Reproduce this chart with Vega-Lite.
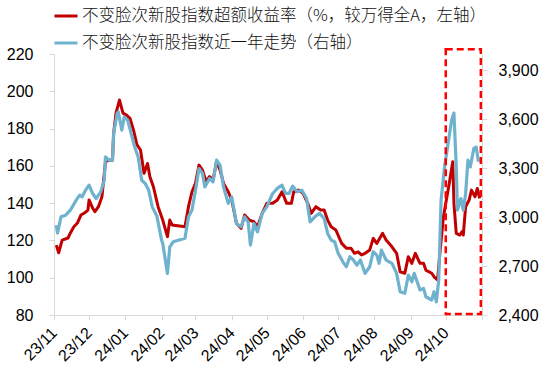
{
  "$schema": "https://vega.github.io/schema/vega-lite/v6.json",
  "width": 428,
  "height": 261,
  "autosize": {"type": "none"},
  "padding": {"left": 54, "top": 54, "right": 68, "bottom": 64},
  "background": "white",
  "config": {"view": {"stroke": null}, "font": "Liberation Sans"},
  "datasets": {
    "red": [
      {"d": "2023-11-03", "v": 117.5}, {"d": "2023-11-05", "v": 113.4}, {"d": "2023-11-08", "v": 120.2}, {"d": "2023-11-13", "v": 121.3},
      {"d": "2023-11-15", "v": 124.0}, {"d": "2023-11-18", "v": 127.3}, {"d": "2023-11-21", "v": 129.3}, {"d": "2023-11-24", "v": 133.6},
      {"d": "2023-11-27", "v": 134.7}, {"d": "2023-11-30", "v": 136.3}, {"d": "2023-12-01", "v": 141.7}, {"d": "2023-12-04", "v": 137.4},
      {"d": "2023-12-06", "v": 135.4}, {"d": "2023-12-09", "v": 138.1}, {"d": "2023-12-12", "v": 143.4}, {"d": "2023-12-15", "v": 162.2},
      {"d": "2023-12-18", "v": 163.1}, {"d": "2023-12-21", "v": 163.0}, {"d": "2023-12-22", "v": 177.4}, {"d": "2023-12-24", "v": 188.3},
      {"d": "2023-12-27", "v": 195.3}, {"d": "2023-12-30", "v": 188.3}, {"d": "2024-01-02", "v": 187.2}, {"d": "2024-01-05", "v": 185.5},
      {"d": "2024-01-08", "v": 179.2}, {"d": "2024-01-11", "v": 171.2}, {"d": "2024-01-14", "v": 168.5}, {"d": "2024-01-17", "v": 156.0},
      {"d": "2024-01-20", "v": 161.3}, {"d": "2024-01-22", "v": 154.2}, {"d": "2024-01-25", "v": 148.8}, {"d": "2024-01-29", "v": 138.1},
      {"d": "2024-02-01", "v": 132.7}, {"d": "2024-02-02", "v": 130.9}, {"d": "2024-02-06", "v": 122.0}, {"d": "2024-02-08", "v": 130.9},
      {"d": "2024-02-10", "v": 128.3}, {"d": "2024-02-21", "v": 127.3}, {"d": "2024-02-24", "v": 138.1}, {"d": "2024-02-27", "v": 146.1},
      {"d": "2024-03-01", "v": 150.6}, {"d": "2024-03-04", "v": 160.4}, {"d": "2024-03-07", "v": 157.7}, {"d": "2024-03-10", "v": 151.5},
      {"d": "2024-03-13", "v": 154.2}, {"d": "2024-03-16", "v": 152.4}, {"d": "2024-03-19", "v": 162.2}, {"d": "2024-03-22", "v": 157.7},
      {"d": "2024-03-25", "v": 150.6}, {"d": "2024-03-29", "v": 146.1}, {"d": "2024-04-01", "v": 141.7}, {"d": "2024-04-05", "v": 129.2},
      {"d": "2024-04-09", "v": 126.5}, {"d": "2024-04-12", "v": 133.6}, {"d": "2024-04-16", "v": 130.9}, {"d": "2024-04-20", "v": 130.0},
      {"d": "2024-04-23", "v": 127.3}, {"d": "2024-04-27", "v": 134.5}, {"d": "2024-05-01", "v": 139.9}, {"d": "2024-05-06", "v": 139.9},
      {"d": "2024-05-10", "v": 141.7}, {"d": "2024-05-14", "v": 146.1}, {"d": "2024-05-18", "v": 139.9}, {"d": "2024-05-22", "v": 139.9},
      {"d": "2024-05-24", "v": 146.1}, {"d": "2024-05-28", "v": 147.0}, {"d": "2024-06-01", "v": 145.3}, {"d": "2024-06-05", "v": 139.9},
      {"d": "2024-06-08", "v": 134.5}, {"d": "2024-06-12", "v": 138.1}, {"d": "2024-06-16", "v": 136.3}, {"d": "2024-06-19", "v": 136.3},
      {"d": "2024-06-22", "v": 130.9}, {"d": "2024-06-25", "v": 127.3}, {"d": "2024-06-29", "v": 125.6}, {"d": "2024-07-04", "v": 118.4},
      {"d": "2024-07-08", "v": 115.8}, {"d": "2024-07-12", "v": 115.8}, {"d": "2024-07-15", "v": 113.1}, {"d": "2024-07-18", "v": 113.9},
      {"d": "2024-07-21", "v": 112.2}, {"d": "2024-07-24", "v": 113.1}, {"d": "2024-07-28", "v": 114.9}, {"d": "2024-07-31", "v": 121.1},
      {"d": "2024-08-03", "v": 118.4}, {"d": "2024-08-08", "v": 123.8}, {"d": "2024-08-11", "v": 120.2}, {"d": "2024-08-16", "v": 116.6},
      {"d": "2024-08-20", "v": 113.1}, {"d": "2024-08-23", "v": 103.2}, {"d": "2024-08-27", "v": 102.4}, {"d": "2024-08-30", "v": 111.3},
      {"d": "2024-09-02", "v": 107.7}, {"d": "2024-09-05", "v": 113.1}, {"d": "2024-09-09", "v": 107.7}, {"d": "2024-09-12", "v": 107.7},
      {"d": "2024-09-14", "v": 104.1}, {"d": "2024-09-19", "v": 102.4}, {"d": "2024-09-21", "v": 100.5}, {"d": "2024-09-24", "v": 98.8},
      {"d": "2024-09-26", "v": 113.1}, {"d": "2024-09-29", "v": 132.7}, {"d": "2024-10-02", "v": 143.4}, {"d": "2024-10-04", "v": 150.6},
      {"d": "2024-10-07", "v": 162.2}, {"d": "2024-10-08", "v": 139.9}, {"d": "2024-10-10", "v": 123.8}, {"d": "2024-10-13", "v": 122.9},
      {"d": "2024-10-15", "v": 124.7}, {"d": "2024-10-16", "v": 122.9}, {"d": "2024-10-18", "v": 138.1}, {"d": "2024-10-21", "v": 141.7},
      {"d": "2024-10-23", "v": 147.0}, {"d": "2024-10-26", "v": 143.4}, {"d": "2024-10-28", "v": 147.9}, {"d": "2024-10-30", "v": 142.6}
    ],
    "blue": [
      {"d": "2023-11-03", "v": 2951}, {"d": "2023-11-04", "v": 2902}, {"d": "2023-11-07", "v": 3002}, {"d": "2023-11-11", "v": 3012},
      {"d": "2023-11-15", "v": 3043}, {"d": "2023-11-20", "v": 3104}, {"d": "2023-11-23", "v": 3135}, {"d": "2023-11-25", "v": 3124},
      {"d": "2023-11-28", "v": 3165}, {"d": "2023-12-01", "v": 3196}, {"d": "2023-12-04", "v": 3145}, {"d": "2023-12-07", "v": 3114},
      {"d": "2023-12-11", "v": 3155}, {"d": "2023-12-14", "v": 3226}, {"d": "2023-12-15", "v": 3369}, {"d": "2023-12-18", "v": 3349},
      {"d": "2023-12-21", "v": 3349}, {"d": "2023-12-22", "v": 3512}, {"d": "2023-12-25", "v": 3635}, {"d": "2023-12-26", "v": 3645},
      {"d": "2023-12-29", "v": 3533}, {"d": "2023-12-31", "v": 3614}, {"d": "2024-01-03", "v": 3594}, {"d": "2024-01-06", "v": 3512},
      {"d": "2024-01-09", "v": 3430}, {"d": "2024-01-12", "v": 3369}, {"d": "2024-01-15", "v": 3226}, {"d": "2024-01-18", "v": 3206},
      {"d": "2024-01-21", "v": 3165}, {"d": "2024-01-24", "v": 3063}, {"d": "2024-01-28", "v": 3006}, {"d": "2024-02-01", "v": 2859},
      {"d": "2024-02-02", "v": 2839}, {"d": "2024-02-06", "v": 2655}, {"d": "2024-02-08", "v": 2818}, {"d": "2024-02-11", "v": 2849},
      {"d": "2024-02-21", "v": 2870}, {"d": "2024-02-24", "v": 3002}, {"d": "2024-02-27", "v": 3043}, {"d": "2024-03-01", "v": 3165},
      {"d": "2024-03-04", "v": 3298}, {"d": "2024-03-07", "v": 3268}, {"d": "2024-03-09", "v": 3185}, {"d": "2024-03-13", "v": 3237},
      {"d": "2024-03-16", "v": 3216}, {"d": "2024-03-19", "v": 3349}, {"d": "2024-03-22", "v": 3318}, {"d": "2024-03-25", "v": 3185},
      {"d": "2024-03-29", "v": 3084}, {"d": "2024-04-01", "v": 3124}, {"d": "2024-04-05", "v": 2961}, {"d": "2024-04-09", "v": 2941},
      {"d": "2024-04-12", "v": 3002}, {"d": "2024-04-15", "v": 2971}, {"d": "2024-04-17", "v": 2829}, {"d": "2024-04-20", "v": 2961},
      {"d": "2024-04-23", "v": 2910}, {"d": "2024-04-27", "v": 3023}, {"d": "2024-05-01", "v": 3063}, {"d": "2024-05-04", "v": 3114},
      {"d": "2024-05-06", "v": 3145}, {"d": "2024-05-10", "v": 3176}, {"d": "2024-05-14", "v": 3196}, {"d": "2024-05-17", "v": 3145},
      {"d": "2024-05-20", "v": 3145}, {"d": "2024-05-23", "v": 3190}, {"d": "2024-05-27", "v": 3155}, {"d": "2024-05-31", "v": 3165},
      {"d": "2024-06-04", "v": 3114}, {"d": "2024-06-07", "v": 2971}, {"d": "2024-06-11", "v": 3002}, {"d": "2024-06-15", "v": 3023},
      {"d": "2024-06-19", "v": 2992}, {"d": "2024-06-22", "v": 2900}, {"d": "2024-06-25", "v": 2859}, {"d": "2024-06-28", "v": 2849},
      {"d": "2024-07-01", "v": 2778}, {"d": "2024-07-05", "v": 2726}, {"d": "2024-07-08", "v": 2696}, {"d": "2024-07-11", "v": 2757},
      {"d": "2024-07-14", "v": 2737}, {"d": "2024-07-17", "v": 2706}, {"d": "2024-07-20", "v": 2737}, {"d": "2024-07-24", "v": 2655},
      {"d": "2024-07-28", "v": 2696}, {"d": "2024-07-31", "v": 2788}, {"d": "2024-08-03", "v": 2767}, {"d": "2024-08-05", "v": 2717},
      {"d": "2024-08-07", "v": 2798}, {"d": "2024-08-11", "v": 2737}, {"d": "2024-08-16", "v": 2717}, {"d": "2024-08-20", "v": 2655},
      {"d": "2024-08-23", "v": 2543}, {"d": "2024-08-27", "v": 2533}, {"d": "2024-08-30", "v": 2645}, {"d": "2024-09-02", "v": 2604},
      {"d": "2024-09-04", "v": 2655}, {"d": "2024-09-09", "v": 2553}, {"d": "2024-09-12", "v": 2563}, {"d": "2024-09-14", "v": 2512},
      {"d": "2024-09-19", "v": 2492}, {"d": "2024-09-21", "v": 2543}, {"d": "2024-09-23", "v": 2481}, {"d": "2024-09-25", "v": 2614},
      {"d": "2024-09-27", "v": 3104}, {"d": "2024-09-30", "v": 3308}, {"d": "2024-10-03", "v": 3451}, {"d": "2024-10-06", "v": 3594},
      {"d": "2024-10-08", "v": 3638}, {"d": "2024-10-10", "v": 3308}, {"d": "2024-10-11", "v": 3043}, {"d": "2024-10-14", "v": 3114},
      {"d": "2024-10-16", "v": 3043}, {"d": "2024-10-18", "v": 3145}, {"d": "2024-10-20", "v": 3349}, {"d": "2024-10-22", "v": 3308},
      {"d": "2024-10-25", "v": 3421}, {"d": "2024-10-27", "v": 3430}, {"d": "2024-10-29", "v": 3339}
    ],
    "box": [{"a": "2024-10-01", "b": "2024-10-31", "lo": 80.5, "hi": 222.6}]
  },
  "encoding": {
    "x": {
      "field": "d", "type": "temporal", "title": null,
      "scale": {"type": "utc", "domain": [{"year": 2023, "month": 11, "date": 1, "utc": true}, {"year": 2024, "month": 11, "date": 1, "utc": true}]},
      "axis": {
        "title": null, "grid": false, "domainColor": "#d9d9d9", "tickColor": "#d9d9d9", "tickSize": 5,
        "tickCount": {"interval": "month", "step": 1},
        "labelAngle": -45, "labelAlign": "right", "labelBaseline": "middle", "labelPadding": 10,
        "labelFont": "Liberation Sans", "labelFontSize": 16, "labelColor": "#000000",
        "labelFlush": false, "labelOverlap": false, "labelBound": false,
        "labelExpr": "datum.value >= utc(2024,10,1) ? '' : utcFormat(datum.value, '%y/%m')"
      }
    }
  },
  "layer": [
    {
      "data": {"name": "red"},
      "mark": {"type": "line", "strokeWidth": 3, "strokeJoin": "round"},
      "encoding": {
        "y": {
          "field": "v", "type": "quantitative", "title": null,
          "scale": {"domain": [80, 220], "nice": false, "zero": false},
          "axis": {"orient": "left", "title": null, "grid": false, "values": [80, 100, 120, 140, 160, 180, 200, 220],
            "domainColor": "#d9d9d9", "tickColor": "#d9d9d9", "tickSize": 5, "labelPadding": 16,
            "labelFont": "Liberation Sans", "labelFontSize": 16, "labelColor": "#000000"}
        },
        "color": {
          "datum": "不变脸次新股指数超额收益率（%，较万得全A，左轴）", "type": "nominal",
          "scale": {"domain": ["不变脸次新股指数超额收益率（%，较万得全A，左轴）", "不变脸次新股指数近一年走势（右轴）"], "range": ["#C00000", "#6FB2CE"]},
          "legend": {"orient": "none", "legendX": -1, "legendY": -51, "title": null, "direction": "vertical",
            "symbolType": "stroke", "symbolSize": 529, "symbolStrokeWidth": 3, "padding": 0, "rowPadding": 5,
            "labelFont": "Noto Sans CJK SC", "labelFontSize": 16.5, "labelFontWeight": 300, "labelColor": "#111111", "labelLimit": 700, "labelOffset": 3}
        }
      }
    },
    {
      "data": {"name": "blue"},
      "mark": {"type": "line", "strokeWidth": 3.2, "strokeJoin": "round"},
      "encoding": {
        "y": {
          "field": "v", "type": "quantitative", "title": null,
          "scale": {"domain": [2400, 4000], "nice": false, "zero": false},
          "axis": {"orient": "right", "title": null, "grid": false, "values": [2400, 2700, 3000, 3300, 3600, 3900], "format": ",d",
            "domainColor": "#d9d9d9", "tickColor": "#d9d9d9", "tickSize": 5, "labelPadding": 11,
            "labelFont": "Liberation Sans", "labelFontSize": 16, "labelColor": "#000000"}
        },
        "color": {"datum": "不变脸次新股指数近一年走势（右轴）", "type": "nominal"}
      }
    },
    {
      "data": {"name": "box"},
      "mark": {"type": "rect", "fill": "white", "fillOpacity": 0, "stroke": "#FF0000", "strokeWidth": 2.5, "strokeDash": [7, 4]},
      "encoding": {
        "x": {
          "field": "a", "type": "temporal", "title": null,
          "axis": {
            "title": null, "grid": false, "domainColor": "#d9d9d9", "tickColor": "#d9d9d9", "tickSize": 5,
            "tickCount": {"interval": "month", "step": 1},
            "labelAngle": -45, "labelAlign": "right", "labelBaseline": "middle", "labelPadding": 10,
            "labelFont": "Liberation Sans", "labelFontSize": 16, "labelColor": "#000000",
            "labelFlush": false, "labelOverlap": false, "labelBound": false,
            "labelExpr": "datum.value >= utc(2024,10,1) ? '' : utcFormat(datum.value, '%y/%m')"
          }
        },
        "x2": {"field": "b"},
        "y": {"field": "lo", "type": "quantitative", "title": null, "scale": {"domain": [80, 220], "nice": false, "zero": false}, "axis": null},
        "y2": {"field": "hi"}
      }
    }
  ],
  "resolve": {"scale": {"y": "independent"}}
}
